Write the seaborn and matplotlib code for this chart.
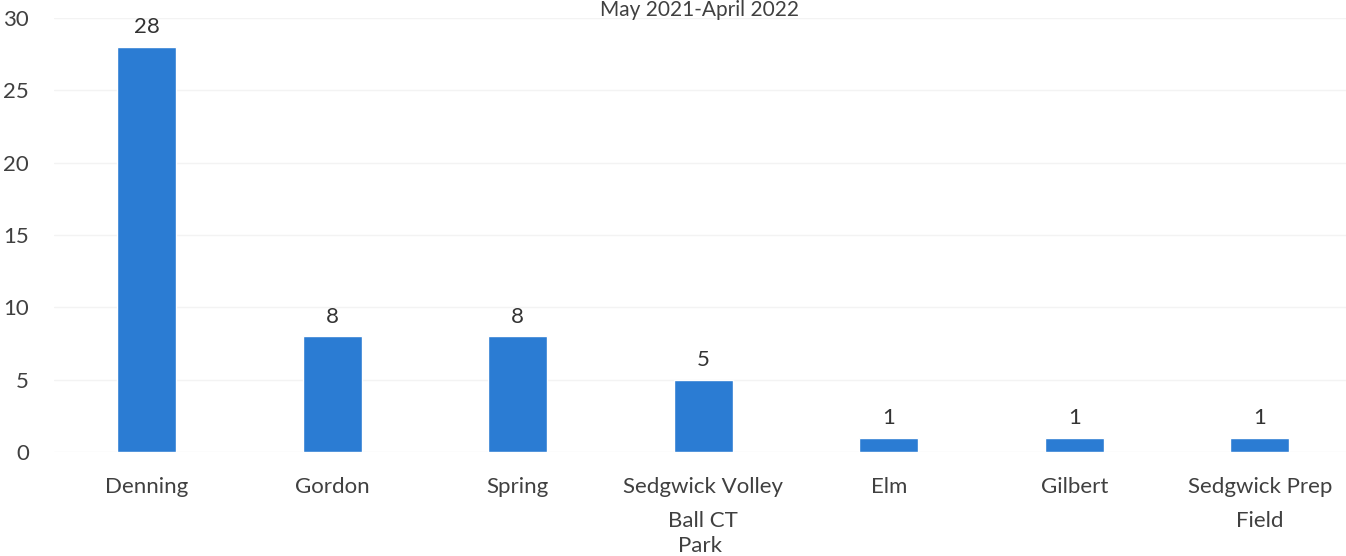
import pandas as pd
import seaborn as sns
from matplotlib import pyplot as plt

parks = ['Denning', 'Gordon', 'Spring', 'Sedgwick Volley\nBall CT', 'Elm', 'Gilbert',
         'Sedgwick Prep\nField']
counts = [28, 8, 8, 5, 1, 1, 1]
title = 'May 2021-April 2022'

sns.set_style('white')
plt.rcParams['font.family'] = ['Lato', 'DejaVu Sans']

text_color = '#404040'
bar_color = '#2b7cd3'

fig = plt.figure(figsize=(13.46, 5.56), dpi=100)
ax = fig.add_axes([54 / 1346, 104 / 556, 1292 / 1346, 434 / 556])

df = pd.DataFrame({'park': parks, 'count': counts})
sns.barplot(data=df, x='park', y='count', color=bar_color, width=0.32,
            saturation=1, ax=ax)

ax.set_xlim(-0.5, -0.5 + 1292 / 185.5)
ax.set_ylim(0, 30)
ax.set_yticks(range(0, 31, 5))
ax.grid(axis='y', color='#f3f3f3', linewidth=1)
ax.set_axisbelow(True)
sns.despine(ax=ax, left=True, bottom=True)

ax.bar_label(ax.containers[0], padding=7, fontsize=16, color='#333333')

ax.tick_params(axis='y', length=0, pad=18, labelsize=16, labelcolor=text_color)
ax.tick_params(axis='x', length=0, pad=18, labelsize=16, labelcolor=text_color)
for lbl in ax.get_xticklabels():
    lbl.set_linespacing(1.85)

ax.set_xlabel('Park', fontsize=16, color=text_color, labelpad=4)
ax.set_ylabel('')

fig.text(0.52, 1.0, title, ha='center', va='top', fontsize=15, color=text_color)

fig.savefig('out.png', dpi=100)
